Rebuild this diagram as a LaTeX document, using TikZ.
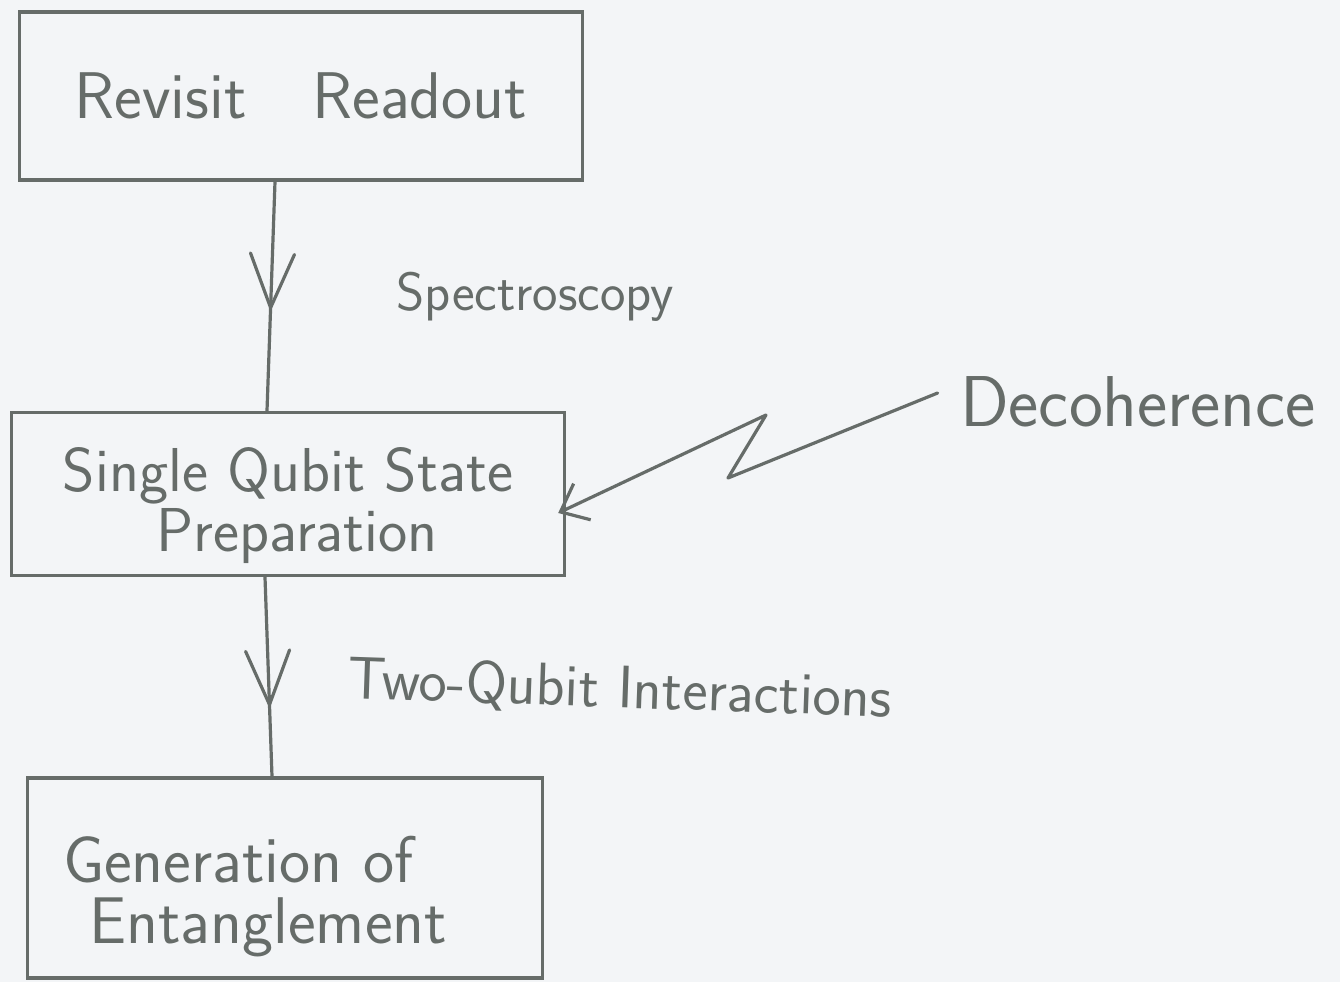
\documentclass[tikz,border=0pt]{standalone}
\usetikzlibrary{arrows.meta,decorations.markings,calc}
\definecolor{pencil}{HTML}{666C69}
\definecolor{paper}{HTML}{F3F5F7}
\tikzset{
  stage/.style={draw=pencil, line width=1.7pt, rectangle, inner sep=0pt,
    align=center, text=pencil, font=\sffamily},
  stroke/.style={draw=pencil, line width=1.6pt, line cap=round, line join=round},
  vmark/.style={postaction={decorate, decoration={markings,
    mark=at position #1 with {\draw[stroke] (-27pt,11pt) -- (0,0) -- (-27pt,-11pt);}}}},
  caption/.style={text=pencil, inner sep=0pt, font=\sffamily\fontsize{27}{30}\selectfont},
}
\begin{document}
\begin{tikzpicture}[x=0.5pt,y=-0.5pt]
  \fill[paper] (0,0) rectangle (1340,982);
  \useasboundingbox (0,0) rectangle (1340,982);

  % the three stages
  \node[stage, minimum width=281.5pt, minimum height=84pt,
        font=\sffamily\fontsize{33}{40}\selectfont] (readout) at (301,96) {Revisit\quad Readout};
  \node[stage, minimum width=276.5pt, minimum height=81.5pt] (prep) at (288,494)
        {\raisebox{-13pt}[0pt][0pt]{\fontsize{31}{28}\selectfont
         \begin{tabular}{@{}c@{}}Single Qubit State\\ \hspace*{0.3em}Preparation\end{tabular}}};
  \node[stage, minimum width=257.5pt, minimum height=100pt] (ent) at (285,878)
        {\hspace*{-30pt}\raisebox{-16pt}[0pt][0pt]{\fontsize{33}{26}\selectfont
         \begin{tabular}{@{}l@{}}Generation of\\ \hspace*{0.4em}Entanglement\end{tabular}}};

  % stage-to-stage transitions
  \draw[stroke, vmark=0.55] ([xshift=-13pt]readout.south) -- ([xshift=-10.5pt]prep.north);
  \draw[stroke, vmark=0.64] ([xshift=-11.5pt]prep.south) -- ([xshift=-6.5pt]ent.north);
  \node[caption] (spec) at (535,297) {Spectroscopy};
  \node[caption, rotate=-2, font=\sffamily\fontsize{30}{34}\selectfont] (twoq) at (620,690)
        {Two-Qubit Interactions};

  % decoherence strikes the state preparation
  \node[text=pencil, inner sep=0pt, font=\sffamily\fontsize{36}{40}\selectfont]
        (deco) at (1138,402) {Decoherence};
  \coordinate (z1) at (728,478);
  \coordinate (z2) at (766,415);
  \draw[stroke, -{Straight Barb[length=12pt,width=20pt,line width=1.6pt]}]
        ([xshift=-11pt,yshift=4.5pt]deco.west) -- (z1) -- (z2) -- ([xshift=-4pt,yshift=-9.5pt]prep.east);
\end{tikzpicture}
\end{document}
